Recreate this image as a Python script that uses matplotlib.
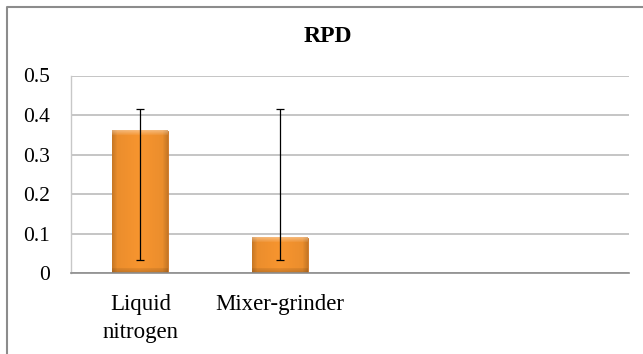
import matplotlib
matplotlib.use("Agg")
import matplotlib.pyplot as plt
from matplotlib.lines import Line2D
import numpy as np

categories = ["Liquid\nnitrogen", "Mixer-grinder"]
rpd_values = [0.36, 0.09]
err_minus = [0.326, 0.056]
err_plus = [0.056, 0.326]
y_ticks = [0, 0.1, 0.2, 0.3, 0.4, 0.5]
y_tick_labels = ["0", "0.1", "0.2", "0.3", "0.4", "0.5"]
n_slots = 4  # the sheet's axis leaves room for four categories

plt.rcParams['font.family'] = ['Liberation Serif', 'DejaVu Serif']

W, H = 643, 354
fig = plt.figure(figsize=(W / 100, H / 100), dpi=100)
ax = fig.add_axes([70.5 / W, 1 - 273.3 / H, (629 - 70.5) / W, (273.3 - 75.5) / H])

x = np.arange(len(categories))
bars = ax.bar(x, rpd_values, width=0.4, color='#F7952F', zorder=2)
ax.errorbar(x, rpd_values, yerr=[err_minus, err_plus], fmt='none',
            ecolor='black', elinewidth=0.9, capsize=3.2, capthick=0.9, zorder=4)

ax.set_xlim(-0.5, n_slots - 0.5)
ax.set_ylim(0, 0.5)
ax.set_yticks(y_ticks)
ax.set_yticklabels(y_tick_labels)
ax.set_xticks(x)
ax.set_xticklabels(categories, linespacing=1.4)
ax.tick_params(axis='y', length=0, pad=15, labelsize=15.5)
ax.tick_params(axis='x', length=0, pad=15, labelsize=16.5)

ax.grid(axis='y', color='#C0C0C0', linewidth=1.3, zorder=0)
ax.set_axisbelow(True)
for s in ['top', 'right']:
    ax.spines[s].set_visible(False)
ax.spines['left'].set_color('#C8C8C8')
ax.spines['left'].set_linewidth(1.0)
ax.spines['bottom'].set_color('#8C8C8C')
ax.spines['bottom'].set_linewidth(1.2)
ax.spines['bottom'].set_zorder(5)

# bevel shading for the bars, like the spreadsheet style
fig.canvas.draw()
for patch in bars.patches:
    bb = patch.get_window_extent()
    pw, ph = int(round(bb.width)), int(round(bb.height))
    if pw < 2 or ph < 2:
        continue
    base = np.array([0.969, 0.584, 0.184])
    img = np.tile(base, (ph, pw, 1))
    cols = np.arange(pw)
    # gentle horizontal shading, darker towards the sides
    u = (cols + 0.5) / pw
    horiz = 1.0 - 0.06 * np.abs(u - 0.5) * 2
    img *= horiz[None, :, None]
    bev = 5
    ramp = np.linspace(0.86, 0.97, bev)
    img[:, :bev, :] *= ramp[None, :, None]
    img[:, -bev:, :] *= ramp[::-1][None, :, None]
    img[-bev:, :, :] *= ramp[::-1][:, None, None] * 0.95  # bottom edge
    lift = np.linspace(0.35, 0.08, bev)
    top = img[:bev, :, :]
    img[:bev, :, :] = top + (1 - top) * lift[:, None, None]
    img = np.clip(img, 0, 1)
    x0, y0 = patch.get_x(), patch.get_y()
    ax.imshow(img, extent=[x0, x0 + patch.get_width(), y0, y0 + patch.get_height()],
              aspect='auto', zorder=3, interpolation='bilinear')
    patch.set_edgecolor('#C9701F')
    patch.set_linewidth(0.6)
ax.set_xlim(-0.5, n_slots - 0.5)
ax.set_ylim(0, 0.5)

fig.text(328 / W, 1 - 37 / H, "RPD", ha='center', va='center',
         fontsize=17, fontweight='bold')

# chart-area frame (left and top edges visible in the crop)
fig.add_artist(Line2D([6.5 / W, 6.5 / W, 1.0], [0.0, 1 - 6.5 / H, 1 - 6.5 / H],
                      transform=fig.transFigure, color='#8C8C8C', linewidth=1.5))

fig.savefig("out.png", dpi=100)
